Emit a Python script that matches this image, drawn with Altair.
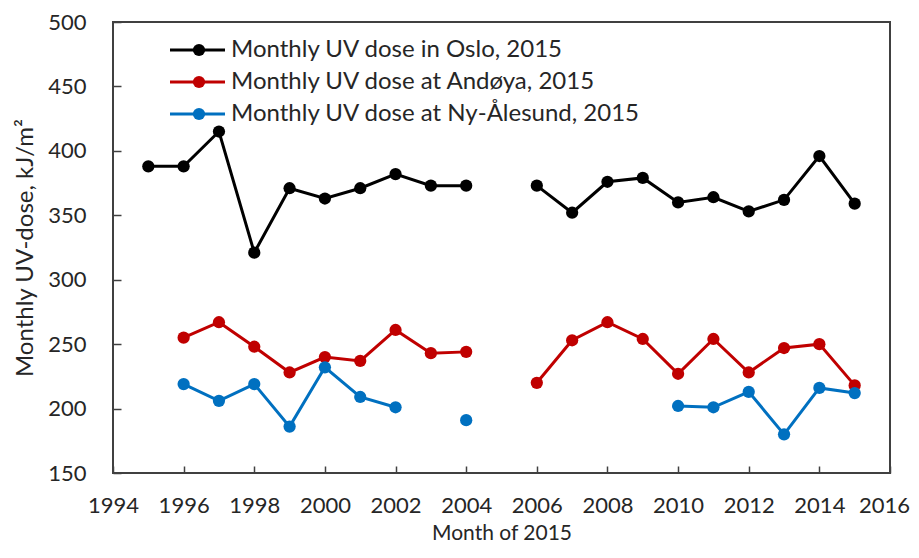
import altair as alt
import pandas as pd

years = list(range(1995, 2016))
oslo = [388, 388, 415, 321, 371, 363, 371, 382, 373, 373, None,
        373, 352, 376, 379, 360, 364, 353, 362, 396, 359]
andoya = [None, 255, 267, 248, 228, 240, 237, 261, 243, 244, None,
          220, 253, 267, 254, 227, 254, 228, 247, 250, 218]
nyalesund = [None, 219, 206, 219, 186, 232, 209, 201, None, 191, None,
             None, None, None, None, 202, 201, 213, 180, 216, 212]

names = ["Monthly UV dose in Oslo, 2015",
         "Monthly UV dose at Andøya, 2015",
         "Monthly UV dose at Ny-Ålesund, 2015"]
colors = ["#000000", "#C00000", "#0070C0"]
x_ticks = list(range(1994, 2017, 2))
y_ticks = list(range(150, 501, 50))

rows = []
for name, vals in zip(names, [oslo, andoya, nyalesund]):
    for yr, v in zip(years, vals):
        rows.append({"year": yr, "value": v, "series": name})
df = pd.DataFrame(rows)

leg = pd.DataFrame({"series": names, "row": [0, 1, 2]})

FONT = "Lato"
color = alt.Color("series:N", scale=alt.Scale(domain=names, range=colors), legend=None)

x = alt.X("year:Q", scale=alt.Scale(domain=[1994, 2016], nice=False, zero=False),
          axis=alt.Axis(values=x_ticks, format="d", title="Month of 2015",
                        offset=-7, tickSize=7, domain=False, grid=False,
                        labelOverlap=False, labelFlush=False,
                        labelOffset=alt.expr("datum.value == 2016 ? -6 : 0"),
                        labelPadding=22, titlePadding=6, titleFontSize=21,
                        tickColor="#404040", tickWidth=1.5))
y = alt.Y("value:Q", scale=alt.Scale(domain=[150, 500], nice=False, zero=False),
          axis=alt.Axis(values=y_ticks, title="Monthly UV-dose, kJ/m²",
                        offset=-8, tickSize=8, domain=False, grid=False,
                        labelOverlap=False, labelFlush=False,
                        labelPadding=27, titlePadding=10, titleFontSize=24,
                        tickColor="#404040", tickWidth=1.5))

base = alt.Chart(df)
lines = base.mark_line(strokeWidth=3).encode(x=x, y=y, color=color, detail="series:N")
points = base.mark_point(filled=True, size=150, opacity=1).encode(
    x=x, y=y, color=color).transform_filter("isValid(datum.value)")

ly = alt.Y("row:Q", scale=alt.Scale(domain=[0, 2], range=[28, 92]), axis=None)
lbase = alt.Chart(leg)
lrule = lbase.mark_rule(strokeWidth=3).encode(
    x=alt.value(57), x2=alt.value(112), y=ly, color=color)
lpt = lbase.mark_point(filled=True, size=150, opacity=1).encode(
    x=alt.value(86), y=ly, color=color)
ltxt = lbase.mark_text(align="left", baseline="middle", font=FONT, fontSize=24,
                       color="#262626").encode(
    x=alt.value(118), y=ly, text="series:N")

data_layer = alt.layer(lines, points)
legend_layer = alt.layer(lrule, lpt, ltxt)

chart = alt.layer(data_layer, legend_layer).resolve_scale(y="independent").properties(
    width=777, height=451,
    autosize=alt.AutoSizeParams(type="none"),
    padding={"left": 105, "top": 14, "right": 21, "bottom": 71},
).configure_view(
    stroke="#404040", strokeWidth=2
).configure_axis(
    labelFont=FONT, titleFont=FONT, labelFontSize=22,
    labelColor="#262626", titleColor="#262626", titleFontWeight="normal"
)

chart.save("out.html", embed_options={"renderer": "svg", "actions": False})
